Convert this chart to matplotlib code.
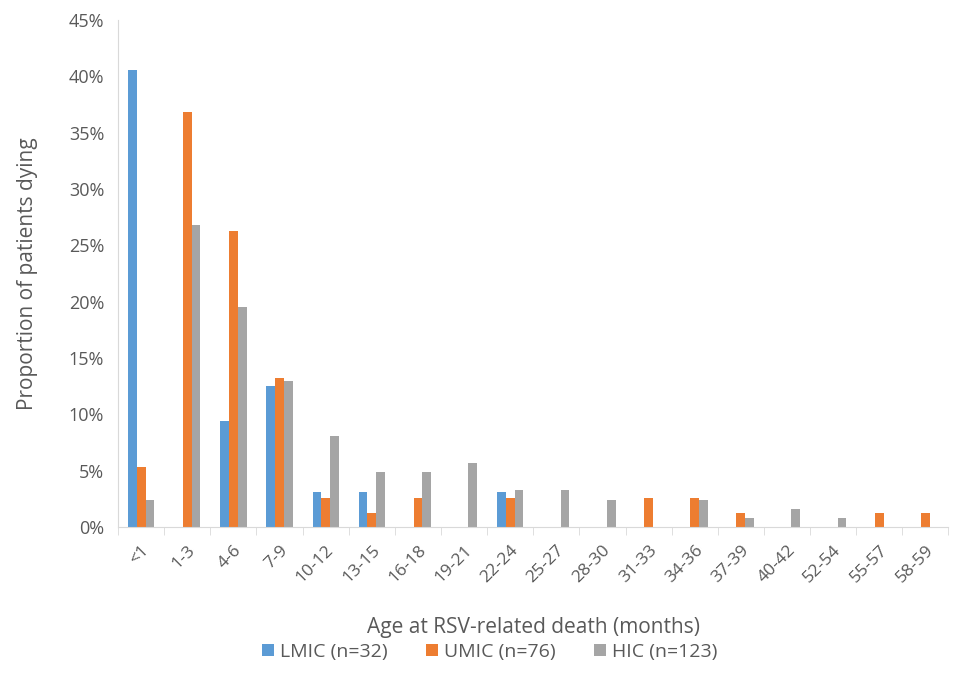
import matplotlib.pyplot as plt
import numpy as np

# Datos (proporción en %)
categories = ["<1", "1-3", "4-6", "7-9", "10-12", "13-15", "16-18", "19-21", "22-24",
              "25-27", "28-30", "31-33", "34-36", "37-39", "40-42", "52-54", "55-57", "58-59"]
lmic = [40.6, 0, 9.4, 12.5, 3.1, 3.1, 0, 0, 3.1, 0, 0, 0, 0, 0, 0, 0, 0, 0]
umic = [5.3, 36.8, 26.3, 13.2, 2.6, 1.3, 2.6, 0, 2.6, 0, 0, 2.6, 2.6, 1.3, 0, 0, 1.3, 1.3]
hic = [2.4, 26.8, 19.5, 13.0, 8.1, 4.9, 4.9, 5.7, 3.3, 3.3, 2.4, 0, 2.4, 0.8, 1.6, 0.8, 0, 0]
series_labels = ["LMIC (n=32)", "UMIC (n=76)", "HIC (n=123)"]
colors = ["#5b9bd5", "#ed7d31", "#a5a5a5"]

TXT = "#595959"
plt.rcParams['font.family'] = ['Open Sans', 'DejaVu Sans']

fig = plt.figure(figsize=(9.6, 6.9), dpi=100)
ax = fig.add_axes([0.123, 0.236, 0.865, 0.735])

x = np.arange(len(categories))
w = 0.19
for i, (vals, lab, c) in enumerate(zip([lmic, umic, hic], series_labels, colors)):
    ax.bar(x + (i - 1) * w, vals, width=w, color=c, label=lab)

ax.set_xlim(-0.5, len(categories) - 0.5)
ax.set_ylim(0, 45)
ax.set_yticks(np.arange(0, 46, 5))
ax.set_yticklabels(["{}%".format(v) for v in range(0, 46, 5)], fontsize=13, color=TXT)

ax.set_xticks(x)
ax.set_xticklabels(categories, rotation=45, ha="right", rotation_mode="anchor",
                   fontsize=12.5, color=TXT)
ax.tick_params(axis="x", length=0, pad=11)
ax.set_xticks(np.arange(-0.5, len(categories), 1), minor=True)
ax.tick_params(axis="x", which="minor", length=6, color="#d9d9d9")
ax.tick_params(axis="y", length=0, pad=10)

for s in ["top", "right"]:
    ax.spines[s].set_visible(False)
ax.spines["left"].set_color("#d9d9d9")
ax.spines["bottom"].set_color("#d9d9d9")

ax.set_ylabel("Proportion of patients dying", fontsize=15, color=TXT, labelpad=22)
ax.set_xlabel("Age at RSV-related death (months)", fontsize=15, color=TXT, labelpad=22)

fig.legend(loc="center", bbox_to_anchor=(0.51, 0.055), ncol=3, frameon=False,
           fontsize=14, labelcolor=TXT, handlelength=0.6, handleheight=0.6,
           handletextpad=0.3, columnspacing=2.0)

fig.savefig("out.png", dpi=100)
